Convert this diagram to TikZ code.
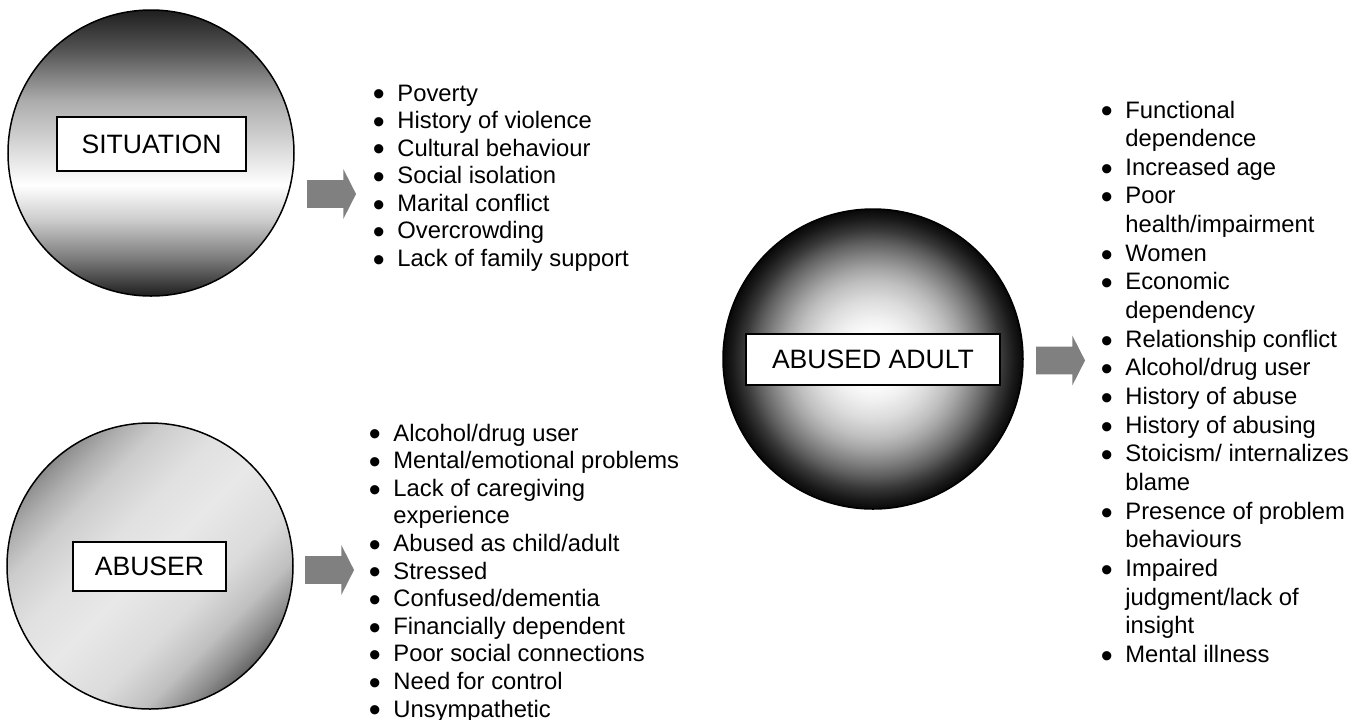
\documentclass[tikz,border=0pt]{standalone}
\usepackage{fontspec}
\setmainfont{Liberation Sans}
\usetikzlibrary{shapes.arrows}

% ball fills (the path covers the 25bp--75bp part of a shading)
\pgfdeclareverticalshading{sitshade}{100bp}{color(0bp)=(black!88); color(25bp)=(black!88); color(31.3bp)=(black!53); color(38.3bp)=(black!20); color(44.4bp)=(white); color(59.25bp)=(black!33); color(68bp)=(black!67); color(75bp)=(black!88); color(100bp)=(black!88)}
\pgfdeclareverticalshading{abusershade}{100bp}{color(0bp)=(black!60); color(25bp)=(black!60); color(28bp)=(black!45); color(33bp)=(black!25); color(40bp)=(black!14); color(50bp)=(black!9); color(58bp)=(black!12); color(66bp)=(black!20); color(71bp)=(black!32); color(75bp)=(black!45); color(100bp)=(black!45)}
\pgfdeclareradialshading{adultshade}{\pgfpoint{0bp}{0bp}}{color(0bp)=(white); color(4bp)=(white); color(7bp)=(black!6); color(10bp)=(black!14); color(13bp)=(black!25); color(15bp)=(black!35); color(17.5bp)=(black!50); color(19.5bp)=(black!63); color(21.5bp)=(black!78); color(23.5bp)=(black!90); color(25bp)=(black!97); color(50bp)=(black!97)}

\newcommand{\itm}{\makebox[12.3pt][l]{\raisebox{-2.4pt}{\fontsize{17}{17}\selectfont\textbullet}}}
\newcommand{\cont}{\hspace*{12.3pt}}

\tikzset{
  ball/.style = {circle, draw, line width=.75pt, inner sep=0},
  tag/.style = {draw, fill=white, line width=1pt, inner sep=0, font=\fontsize{13.3}{16}\selectfont},
  bigarrow/.style = {single arrow, fill=gray, inner xsep=0, inner ysep=6.75pt,
    minimum height=24.5pt, minimum width=24.5pt, single arrow head extend=5.5pt,
    single arrow tip angle=126},
  factlist/.style = {anchor=base west, inner sep=0},
}

\begin{document}
\begin{tikzpicture}[x=.5pt, y=-.5pt]
\useasboundingbox (0,0) rectangle (1367,719);

% the three balls
\node (sitball) [ball, minimum size=143pt, shading=sitshade] at (151,153) {};
\node (abuserball) [ball, minimum size=143pt, shading=abusershade, shading angle=45] at (150,566) {};
\node (adultball) [ball, minimum size=150pt, shading=adultshade] at (873,359) {};

\node (sittag) [tag, minimum width=94.5pt, minimum height=27pt] at (151.5,144) {SITUATION};
\node (abusertag) [tag, minimum width=76.5pt, minimum height=24.5pt] at (149.5,566.5) {ABUSER};
\node (adulttag) [tag, minimum width=127pt, minimum height=25.5pt] at (873,359.5) {ABUSED ADULT};

% arrows to the lists
\node (sitarrow) [bigarrow] at (328,194) {};
\node (abuserarrow) [bigarrow] at (326,570) {};
\node (adultarrow) [bigarrow] at (1057,360.5) {};

\node (sitfacts) [factlist, font=\fontsize{11.9}{13.78}\selectfont] at (372.4,101) {\parbox[t]{200pt}{%
\itm Poverty\\
\itm History of violence\\
\itm Cultural behaviour\\
\itm Social isolation\\
\itm Marital conflict\\
\itm Overcrowding\\
\itm Lack of family support}};

\node (abuserfacts) [factlist, font=\fontsize{11.9}{13.8}\selectfont] at (368.4,441) {\parbox[t]{200pt}{%
\itm Alcohol/drug user\\
\itm Mental/emotional problems\\
\itm Lack of caregiving\\
\cont experience\\
\itm Abused as child/adult\\
\itm Stressed\\
\itm Confused/dementia\\
\itm Financially dependent\\
\itm Poor social connections\\
\itm Need for control\\
\itm Unsympathetic}};

\node (adultfacts) [factlist, font=\fontsize{11.9}{14.33}\selectfont] at (1100.4,118) {\parbox[t]{200pt}{%
\itm Functional\\
\cont dependence\\
\itm Increased age\\
\itm Poor\\
\cont health/impairment\\
\itm Women\\
\itm Economic\\
\cont dependency\\
\itm Relationship conflict\\
\itm Alcohol/drug user\\
\itm History of abuse\\
\itm History of abusing\\
\itm Stoicism/ internalizes\\
\cont blame\\
\itm Presence of problem\\
\cont behaviours\\
\itm Impaired\\
\cont judgment/lack of\\
\cont insight\\
\itm Mental illness}};
\end{tikzpicture}
\end{document}
